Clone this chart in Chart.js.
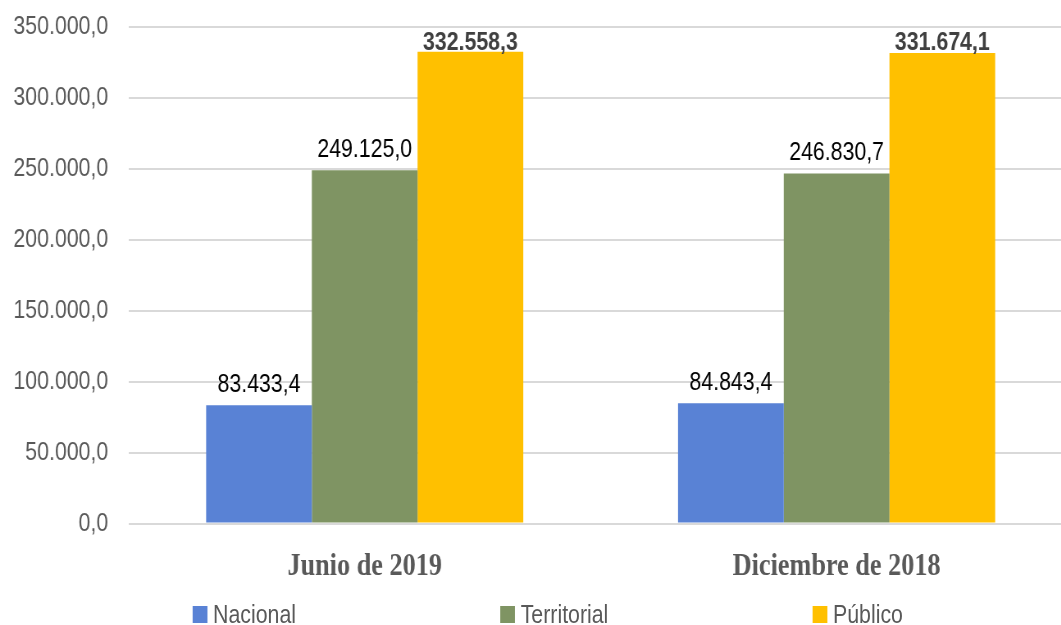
<!DOCTYPE html>
<html>
<head>
<meta charset="utf-8">
<script src="https://cdn.jsdelivr.net/npm/chart.js@4.4.0/dist/chart.umd.min.js"></script>
<style>
  html, body { margin: 0; padding: 0; background: #fff; overflow: hidden; width: 1061px; height: 625px; }
  /* the reference is horizontally squeezed, so draw wide and scale down on x */
  #wrap { position: absolute; left: 0; top: 0; width: 1311px; height: 625px; transform: scaleX(0.82); transform-origin: 0 0; }
  #chartBox { position: absolute; left: 0; top: 0; width: 1311px; height: 625px; }
  #legend { position: absolute; left: 25px; right: 0; top: 598px; display: flex; justify-content: center; gap: 249px;
            font: 26px 'Liberation Sans', Arial, sans-serif; line-height: 32px; color: #595959; }
  .item { display: flex; align-items: center; }
  .sw { width: 18px; height: 17px; margin-right: 7px; }
</style>
</head>
<body>
<div id="wrap">
  <div id="chartBox"><canvas id="myChart"></canvas></div>
  <div id="legend"></div>
</div>
<script>
(() => {
  'use strict';

  const categories = ['Junio de 2019', 'Diciembre de 2018'];
  const seriesNames = ['Nacional', 'Territorial', 'Público'];
  const nacional = [83433.4, 84843.4];
  const territorial = [249125.0, 246830.7];
  const publico = [332558.3, 331674.1];
  const yTicks = [0, 50000, 100000, 150000, 200000, 250000, 300000, 350000];

  const colors = ['#5982d5', '#7f9463', '#ffc000'];
  const labelStyle = [
    {color: '#000000', bold: false},
    {color: '#000000', bold: false},
    {color: '#404040', bold: true}
  ];
  const SANS = '"Liberation Sans", Arial, sans-serif';

  // 332558.3 -> "332.558,3"
  const fmt = v => {
    const [int, dec] = v.toFixed(1).split('.');
    return int.replace(/\B(?=(\d{3})+(?!\d))/g, '.') + ',' + dec;
  };

  const valueLabels = {
    id: 'valueLabels',
    afterDatasetsDraw(chart) {
      const {ctx, chartArea} = chart;
      ctx.save();
      ctx.textAlign = 'center';
      ctx.textBaseline = 'alphabetic';
      chart.data.datasets.forEach((ds, i) => {
        const st = labelStyle[i];
        ctx.font = (st.bold ? 'bold ' : '') + '26px ' + SANS;
        ctx.fillStyle = st.color;
        chart.getDatasetMeta(i).data.forEach((bar, j) => {
          const y = Math.max(bar.y - 13, chartArea.top + 23);
          ctx.fillText(fmt(ds.data[j]), bar.x, y);
        });
      });
      ctx.restore();
    }
  };

  const seriesData = [nacional, territorial, publico];
  const ctx = document.getElementById('myChart').getContext('2d');
  new Chart(ctx, {
    type: 'bar',
    data: {
      labels: categories,
      datasets: seriesNames.map((name, i) => ({
        label: name,
        data: seriesData[i],
        backgroundColor: colors[i],
        borderWidth: 0,
        categoryPercentage: 0.672,
        barPercentage: 1
      }))
    },
    options: {
      responsive: true,
      maintainAspectRatio: false,
      animation: false,
      layout: {padding: {top: 27, left: 0, right: 3, bottom: 15}},
      plugins: {
        legend: {display: false},
        tooltip: {enabled: false}
      },
      scales: {
        x: {
          grid: {display: false, drawTicks: false},
          border: {display: false},
          ticks: {
            color: '#595959',
            padding: 24,
            font: {family: '"Liberation Serif", "Times New Roman", serif', size: 32, weight: 'bold'}
          }
        },
        y: {
          min: 0,
          max: 350000,
          afterBuildTicks: axis => { axis.ticks = yTicks.map(v => ({value: v})); },
          afterFit: axis => {
            axis.width = 157;
            axis.paddingTop = 0;
            axis.paddingBottom = 0;
          },
          grid: {color: '#d9d9d9', lineWidth: 2, drawTicks: false},
          border: {display: false},
          ticks: {
            color: '#595959',
            padding: 25,
            font: {family: SANS, size: 26},
            callback: v => fmt(v)
          }
        }
      }
    },
    plugins: [valueLabels]
  });

  const legend = document.getElementById('legend');
  seriesNames.forEach((name, i) => {
    const item = document.createElement('div');
    item.className = 'item';
    const sw = document.createElement('span');
    sw.className = 'sw';
    sw.style.background = colors[i];
    const txt = document.createElement('span');
    txt.textContent = name;
    item.appendChild(sw);
    item.appendChild(txt);
    legend.appendChild(item);
  });
})();
</script>
</body>
</html>
